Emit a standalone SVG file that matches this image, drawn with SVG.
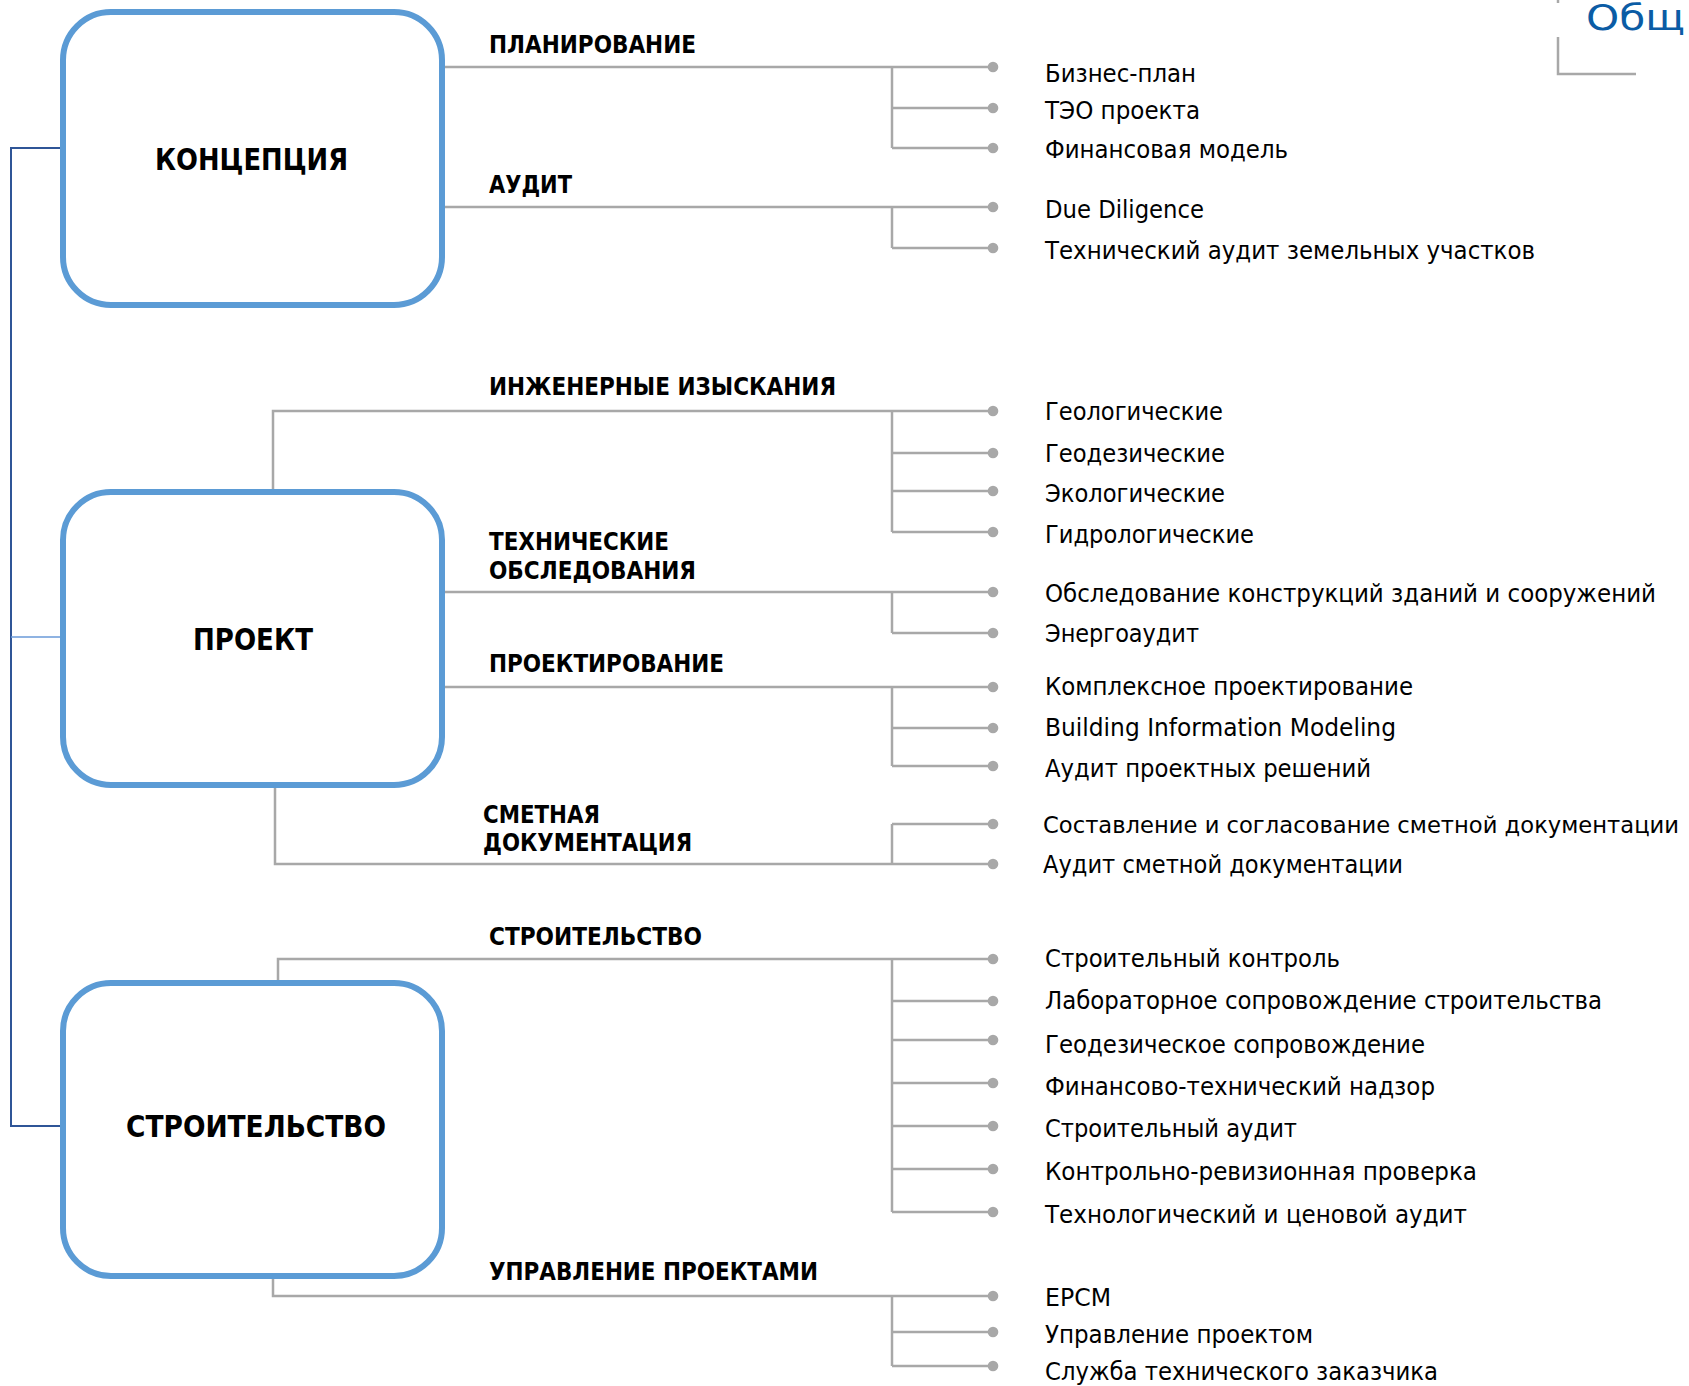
<svg xmlns="http://www.w3.org/2000/svg" width="1689" height="1386" viewBox="0 0 1689 1386">
<style>
.box{fill:#fff;stroke:#5B9BD5;stroke-width:6}
.title{font-family:"DejaVu Sans","Noto Sans",sans-serif;font-weight:bold;font-size:30px;fill:#000}
.head{font-family:"DejaVu Sans","Noto Sans",sans-serif;font-weight:bold;font-size:24px;fill:#000}
.item{font-family:"DejaVu Sans","Noto Sans",sans-serif;font-size:24px;fill:#000}
.ln{fill:none;stroke:#A8A8A8;stroke-width:2.5}
.dot{fill:none;stroke:#A8A8A8;stroke-width:2.5;marker-end:url(#dot)}
.blue{fill:none;stroke:#2F5597;stroke-width:2}
.blue2{fill:none;stroke:#6A9AD8;stroke-width:1.5}
</style>
<defs>
<marker id="dot" markerUnits="userSpaceOnUse" markerWidth="12" markerHeight="12" refX="6" refY="6" orient="auto">
<circle cx="6" cy="6" r="5.3" fill="#A8A8A8"/>
</marker>
</defs>
<rect width="1689" height="1386" fill="#fff"/>

<g id="connectors">
<path class="blue" d="M60 148 H11 V1126 H60"/>
<path class="blue2" d="M11 637 H60"/>
<!-- ПЛАНИРОВАНИЕ -->
<path class="dot" d="M443 67 H993"/>
<path class="ln" d="M892 67 V148"/>
<path class="dot" d="M892 108 H993"/>
<path class="dot" d="M892 148 H993"/>
<!-- АУДИТ -->
<path class="dot" d="M443 207 H993"/>
<path class="ln" d="M892 207 V248"/>
<path class="dot" d="M892 248 H993"/>
<!-- ИНЖЕНЕРНЫЕ ИЗЫСКАНИЯ -->
<path class="dot" d="M273 490 V411 H993"/>
<path class="ln" d="M892 411 V532"/>
<path class="dot" d="M892 453 H993"/>
<path class="dot" d="M892 491 H993"/>
<path class="dot" d="M892 532 H993"/>
<!-- ТЕХНИЧЕСКИЕ ОБСЛЕДОВАНИЯ -->
<path class="dot" d="M443 592 H993"/>
<path class="ln" d="M892 592 V633"/>
<path class="dot" d="M892 633 H993"/>
<!-- ПРОЕКТИРОВАНИЕ -->
<path class="dot" d="M443 687 H993"/>
<path class="ln" d="M892 687 V766"/>
<path class="dot" d="M892 728 H993"/>
<path class="dot" d="M892 766 H993"/>
<!-- СМЕТНАЯ ДОКУМЕНТАЦИЯ -->
<path class="dot" d="M275 786 V864 H993"/>
<path class="ln" d="M892 864 V824"/>
<path class="dot" d="M892 824 H993"/>
<!-- СТРОИТЕЛЬСТВО -->
<path class="dot" d="M278 982 V959 H993"/>
<path class="ln" d="M892 959 V1212"/>
<path class="dot" d="M892 1001 H993"/>
<path class="dot" d="M892 1040 H993"/>
<path class="dot" d="M892 1083 H993"/>
<path class="dot" d="M892 1126 H993"/>
<path class="dot" d="M892 1169 H993"/>
<path class="dot" d="M892 1212 H993"/>
<!-- УПРАВЛЕНИЕ ПРОЕКТАМИ -->
<path class="dot" d="M273 1277 V1296 H993"/>
<path class="ln" d="M892 1296 V1366"/>
<path class="dot" d="M892 1332 H993"/>
<path class="dot" d="M892 1366 H993"/>
<!-- top-right bracket -->
<path class="ln" d="M1558 0 V3"/>
<path class="ln" d="M1558 37 V74 H1636"/>
</g>

<g id="node-koncepciya">
<rect class="box" x="63" y="12" width="379" height="293" rx="48"/>
<text class="title" x="155" y="170" textLength="193" lengthAdjust="spacingAndGlyphs">КОНЦЕПЦИЯ</text>
</g>
<g id="node-proekt">
<rect class="box" x="63" y="492" width="379" height="293" rx="48"/>
<text class="title" x="193" y="650" textLength="120" lengthAdjust="spacingAndGlyphs">ПРОЕКТ</text>
</g>
<g id="node-stroitelstvo">
<rect class="box" x="63" y="983" width="379" height="293" rx="48"/>
<text class="title" x="126" y="1137" textLength="260" lengthAdjust="spacingAndGlyphs">СТРОИТЕЛЬСТВО</text>
</g>

<g id="branch-planirovanie">
<text class="head" x="489" y="53" textLength="207" lengthAdjust="spacingAndGlyphs">ПЛАНИРОВАНИЕ</text>
<text class="item" x="1045" y="82" textLength="151" lengthAdjust="spacingAndGlyphs">Бизнес-план</text>
<text class="item" x="1045" y="119" textLength="155" lengthAdjust="spacingAndGlyphs">ТЭО проекта</text>
<text class="item" x="1045" y="158" textLength="243" lengthAdjust="spacingAndGlyphs">Финансовая модель</text>
</g>
<g id="branch-audit">
<text class="head" x="489" y="193" textLength="83" lengthAdjust="spacingAndGlyphs">АУДИТ</text>
<text class="item" x="1045" y="218" textLength="159" lengthAdjust="spacingAndGlyphs">Due Diligence</text>
<text class="item" x="1045" y="259" textLength="490" lengthAdjust="spacingAndGlyphs">Технический аудит земельных участков</text>
</g>
<g id="branch-izyskaniya">
<text class="head" x="489" y="395" textLength="347" lengthAdjust="spacingAndGlyphs">ИНЖЕНЕРНЫЕ ИЗЫСКАНИЯ</text>
<text class="item" x="1045" y="420" textLength="178" lengthAdjust="spacingAndGlyphs">Геологические</text>
<text class="item" x="1045" y="462" textLength="180" lengthAdjust="spacingAndGlyphs">Геодезические</text>
<text class="item" x="1045" y="502" textLength="180" lengthAdjust="spacingAndGlyphs">Экологические</text>
<text class="item" x="1045" y="543" textLength="209" lengthAdjust="spacingAndGlyphs">Гидрологические</text>
</g>
<g id="branch-obsledovaniya">
<text class="head" x="489" y="550" textLength="180" lengthAdjust="spacingAndGlyphs">ТЕХНИЧЕСКИЕ</text>
<text class="head" x="489" y="579" textLength="207" lengthAdjust="spacingAndGlyphs">ОБСЛЕДОВАНИЯ</text>
<text class="item" x="1045" y="602" textLength="611" lengthAdjust="spacingAndGlyphs">Обследование конструкций зданий и сооружений</text>
<text class="item" x="1045" y="642" textLength="154" lengthAdjust="spacingAndGlyphs">Энергоаудит</text>
</g>
<g id="branch-proektirovanie">
<text class="head" x="489" y="672" textLength="235" lengthAdjust="spacingAndGlyphs">ПРОЕКТИРОВАНИЕ</text>
<text class="item" x="1045" y="695" textLength="368" lengthAdjust="spacingAndGlyphs">Комплексное проектирование</text>
<text class="item" x="1045" y="736" textLength="351" lengthAdjust="spacingAndGlyphs">Building Information Modeling</text>
<text class="item" x="1045" y="777" textLength="326" lengthAdjust="spacingAndGlyphs">Аудит проектных решений</text>
</g>
<g id="branch-smeta">
<text class="head" x="483" y="823" textLength="117" lengthAdjust="spacingAndGlyphs">СМЕТНАЯ</text>
<text class="head" x="483" y="851" textLength="209" lengthAdjust="spacingAndGlyphs">ДОКУМЕНТАЦИЯ</text>
<text class="item" x="1043" y="833" style="font-size:22.5px" textLength="636" lengthAdjust="spacingAndGlyphs">Составление и согласование сметной документации</text>
<text class="item" x="1043" y="873" textLength="360" lengthAdjust="spacingAndGlyphs">Аудит сметной документации</text>
</g>
<g id="branch-stroitelstvo">
<text class="head" x="489" y="945" textLength="213" lengthAdjust="spacingAndGlyphs">СТРОИТЕЛЬСТВО</text>
<text class="item" x="1045" y="967" textLength="295" lengthAdjust="spacingAndGlyphs">Строительный контроль</text>
<text class="item" x="1045" y="1009" textLength="557" lengthAdjust="spacingAndGlyphs">Лабораторное сопровождение строительства</text>
<text class="item" x="1045" y="1053" textLength="380" lengthAdjust="spacingAndGlyphs">Геодезическое сопровождение</text>
<text class="item" x="1045" y="1095" textLength="390" lengthAdjust="spacingAndGlyphs">Финансово-технический надзор</text>
<text class="item" x="1045" y="1137" textLength="252" lengthAdjust="spacingAndGlyphs">Строительный аудит</text>
<text class="item" x="1045" y="1180" textLength="432" lengthAdjust="spacingAndGlyphs">Контрольно-ревизионная проверка</text>
<text class="item" x="1045" y="1223" textLength="422" lengthAdjust="spacingAndGlyphs">Технологический и ценовой аудит</text>
</g>
<g id="branch-upravlenie">
<text class="head" x="489" y="1280" textLength="329" lengthAdjust="spacingAndGlyphs">УПРАВЛЕНИЕ ПРОЕКТАМИ</text>
<text class="item" x="1045" y="1306" textLength="66" lengthAdjust="spacingAndGlyphs">EPCM</text>
<text class="item" x="1045" y="1343" textLength="268" lengthAdjust="spacingAndGlyphs">Управление проектом</text>
<text class="item" x="1045" y="1380" textLength="393" lengthAdjust="spacingAndGlyphs">Служба технического заказчика</text>
</g>
<g id="corner-title">
<text x="1586" y="30" font-family="DejaVu Sans, Noto Sans, sans-serif" font-size="36" fill="#0B5CA5" textLength="99" lengthAdjust="spacingAndGlyphs">Общ</text>
</g>
</svg>
